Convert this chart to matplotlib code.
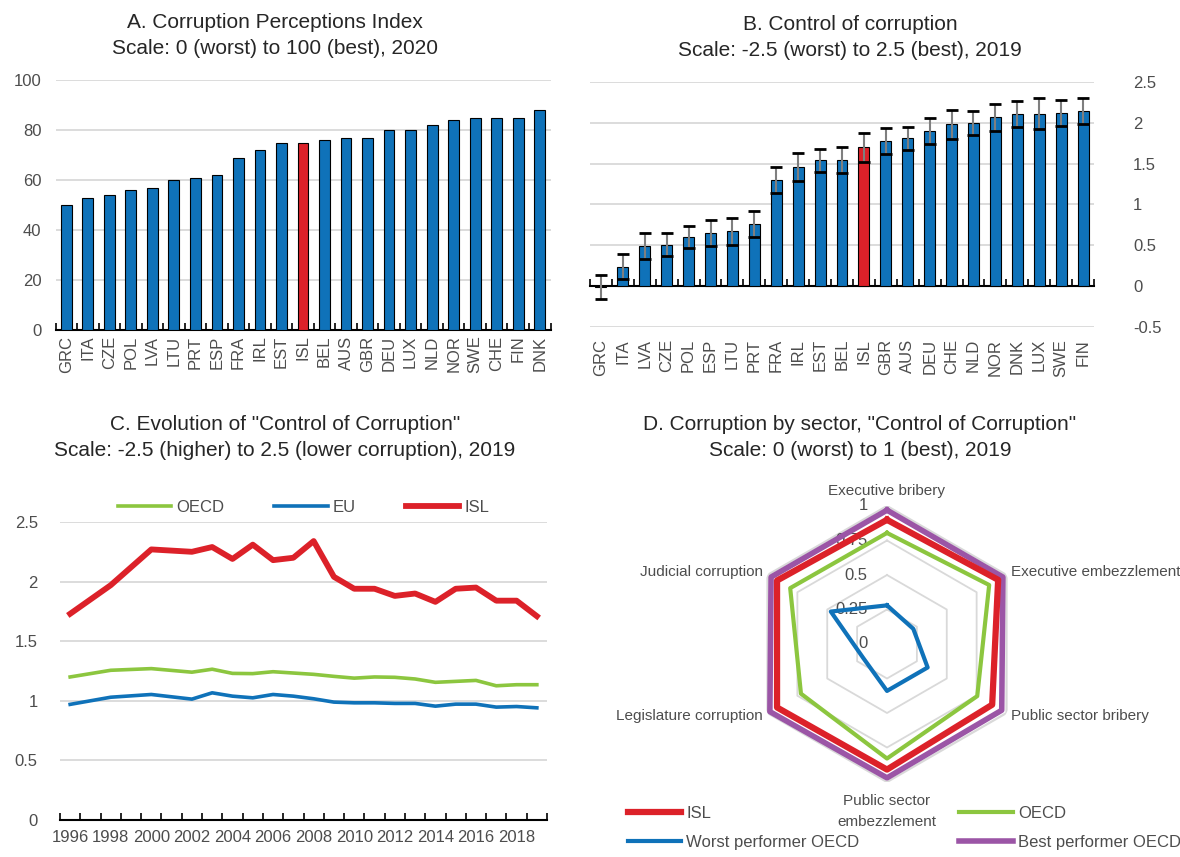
import matplotlib
matplotlib.use('Agg')
import matplotlib.pyplot as plt
import numpy as np
from matplotlib.lines import Line2D

# ----------------------------
# Data
# ----------------------------
cpi_countries = ['GRC', 'ITA', 'CZE', 'POL', 'LVA', 'LTU', 'PRT', 'ESP', 'FRA', 'IRL', 'EST', 'ISL',
                 'BEL', 'AUS', 'GBR', 'DEU', 'LUX', 'NLD', 'NOR', 'SWE', 'CHE', 'FIN', 'DNK']
cpi_scores = [50, 53, 54, 56, 57, 60, 61, 62, 69, 72, 75, 75, 76, 77, 77, 80, 80, 82, 84, 85, 85, 85, 88]

cc_countries = ['GRC', 'ITA', 'LVA', 'CZE', 'POL', 'ESP', 'LTU', 'PRT', 'FRA', 'IRL', 'EST', 'BEL',
                'ISL', 'GBR', 'AUS', 'DEU', 'CHE', 'NLD', 'NOR', 'DNK', 'LUX', 'SWE', 'FIN']
cc_values = [-0.01, 0.24, 0.49, 0.51, 0.60, 0.65, 0.67, 0.76, 1.30, 1.46, 1.54, 1.55,
             1.70, 1.78, 1.81, 1.90, 1.98, 2.00, 2.07, 2.11, 2.11, 2.12, 2.15]
cc_errors = [0.15, 0.15, 0.155, 0.145, 0.135, 0.16, 0.16, 0.16, 0.155, 0.17, 0.14, 0.16,
             0.18, 0.16, 0.145, 0.16, 0.175, 0.15, 0.165, 0.155, 0.19, 0.16, 0.16]

years = [1996, 1998, 2000, 2002, 2003, 2004, 2005, 2006, 2007, 2008, 2009, 2010,
         2011, 2012, 2013, 2014, 2015, 2016, 2017, 2018, 2019]
oecd_series = [1.20, 1.256, 1.27, 1.24, 1.265, 1.23, 1.228, 1.244, 1.233, 1.222, 1.205, 1.19,
               1.20, 1.197, 1.183, 1.155, 1.163, 1.171, 1.126, 1.135, 1.135]
eu_series = [0.97, 1.03, 1.053, 1.014, 1.067, 1.039, 1.025, 1.053, 1.039, 1.017, 0.989, 0.983,
             0.983, 0.978, 0.978, 0.955, 0.972, 0.972, 0.947, 0.952, 0.941]
isl_series = [1.73, 1.97, 2.27, 2.25, 2.29, 2.19, 2.31, 2.18, 2.20, 2.34, 2.04, 1.94,
              1.94, 1.88, 1.90, 1.83, 1.94, 1.95, 1.84, 1.84, 1.71]

sectors = ['Executive bribery', 'Executive embezzlement', 'Public sector bribery',
           'Public sector\nembezzlement', 'Legislature corruption', 'Judicial corruption']
radar_isl = [0.90, 0.93, 0.88, 0.91, 0.92, 0.92]
radar_oecd = [0.805, 0.855, 0.755, 0.83, 0.72, 0.81]
radar_worst = [0.28, 0.22, 0.34, 0.34, 0.20, 0.47]
radar_best = [0.97, 0.97, 0.96, 0.97, 0.98, 0.97]

# ----------------------------
# Style
# ----------------------------
BLUE = '#0F72B9'
RED = '#DC2129'
GREEN = '#8CC63F'
PURPLE = '#9B55A6'
GRID = '#D9D9D9'
TICK = '#4D4D4D'
TITLE = '#262626'
FS = 12

plt.rcParams['font.family'] = ['Liberation Sans', 'DejaVu Sans']
plt.rcParams['text.color'] = TICK

W, H = 1180, 857
fig = plt.figure(figsize=(W / 100, H / 100), dpi=100)


def box(x0, y0, x1, y1):
    # pixel box (top-left origin) -> figure fraction
    return [x0 / W, 1 - y1 / H, (x1 - x0) / W, (y1 - y0) / H]


def title(x, y, l1, l2):
    fig.text(x / W, 1 - y / H, l1, ha='center', va='center', fontsize=15, color=TITLE)
    fig.text(x / W, 1 - (y + 26) / H, l2, ha='center', va='center', fontsize=15, color=TITLE)


def cat_axis(ax, n):
    ax.set_xlim(-0.5, n - 0.5)
    ax.set_xticks(np.arange(-0.5, n), minor=True)
    ax.tick_params(axis='x', which='minor', length=5, width=1.2, direction='in', color='black')
    ax.tick_params(axis='x', which='major', length=0, labelsize=FS, labelcolor=TICK)
    for s in ['top', 'right', 'left']:
        ax.spines[s].set_visible(False)
    ax.spines['bottom'].set_linewidth(1.5)
    ax.grid(axis='y', color=GRID, linewidth=1.3, zorder=0)
    ax.set_axisbelow(True)


# ----------------------------
# A. Corruption Perceptions Index
# ----------------------------
axA = fig.add_axes(box(55.5, 80, 550.5, 330))
xa = np.arange(len(cpi_countries))
axA.bar(xa, cpi_scores, width=0.5, color=[RED if c == 'ISL' else BLUE for c in cpi_countries],
        edgecolor='black', linewidth=0.8, zorder=3)
cat_axis(axA, len(cpi_countries))
axA.set_xticks(xa)
axA.set_xticklabels(cpi_countries, rotation=90)
axA.tick_params(axis='x', which='major', pad=4)
axA.set_ylim(0, 100)
axA.set_yticks(np.arange(0, 101, 20))
axA.tick_params(axis='y', length=0, labelsize=FS, labelcolor=TICK, pad=10)
title(275, 23, 'A. Corruption Perceptions Index', 'Scale: 0 (worst) to 100 (best), 2020')

# ----------------------------
# B. Control of corruption
# ----------------------------
axB = fig.add_axes(box(590, 82, 1094, 327))
xb = np.arange(len(cc_countries))
axB.bar(xb, cc_values, width=0.5, color=[RED if c == 'ISL' else BLUE for c in cc_countries],
        edgecolor='black', linewidth=0.8, zorder=3)
eb = axB.errorbar(xb, cc_values, yerr=cc_errors, fmt='none', ecolor='#7F7F7F', elinewidth=1.5,
                  capsize=4, capthick=2, zorder=4)
for cap in eb[1]:
    cap.set_color('black')
    cap.set_markeredgecolor('black')
cat_axis(axB, len(cc_countries))
axB.spines['bottom'].set_position(('data', 0))
axB.set_xticks(xb)
axB.set_xticklabels(cc_countries, rotation=90)
axB.tick_params(axis='x', which='major', pad=38)
axB.set_ylim(-0.5, 2.5)
axB.set_yticks([-0.5, 0, 0.5, 1, 1.5, 2, 2.5])
axB.set_yticklabels(['-0.5', '0', '0.5', '1', '1.5', '2', '2.5'])
axB.yaxis.tick_right()
axB.tick_params(axis='y', length=0, labelsize=FS, labelcolor=TICK, pad=28)
title(850, 25, 'B. Control of corruption', 'Scale: -2.5 (worst) to 2.5 (best), 2019')

# ----------------------------
# C. Evolution of Control of Corruption
# ----------------------------
axC = fig.add_axes(box(60, 522, 547, 820))
axC.plot(years, oecd_series, color=GREEN, linewidth=2.6, label='OECD', zorder=3)
axC.plot(years, eu_series, color=BLUE, linewidth=2.6, label='EU', zorder=3)
axC.plot(years, isl_series, color=RED, linewidth=4.2, label='ISL', zorder=3)
axC.set_xlim(1995.5, 2019.5)
axC.set_xticks(np.arange(1995.5, 2020), minor=True)
axC.set_xticks(np.arange(1996, 2019, 2))
axC.tick_params(axis='x', which='minor', length=5, width=1.2, direction='in', color='black')
axC.tick_params(axis='x', which='major', length=0, labelsize=FS, labelcolor=TICK, pad=7)
for s in ['top', 'right', 'left']:
    axC.spines[s].set_visible(False)
axC.spines['bottom'].set_linewidth(1.5)
axC.grid(axis='y', color=GRID, linewidth=1.3, zorder=0)
axC.set_ylim(0, 2.5)
axC.set_yticks([0, 0.5, 1, 1.5, 2, 2.5])
axC.set_yticklabels(['0', '0.5', '1', '1.5', '2', '2.5'])
axC.tick_params(axis='y', length=0, labelsize=FS, labelcolor=TICK, pad=16)
axC.legend(loc='lower center', bbox_to_anchor=(0.5, 1.0), ncol=3, frameon=False, fontsize=FS,
           handlelength=3.2, handletextpad=0.3, columnspacing=3.0, borderaxespad=0.0)
title(285, 425, 'C. Evolution of "Control of Corruption"',
      'Scale: -2.5 (higher) to 2.5 (lower corruption), 2019')

# ----------------------------
# D. Corruption by sector (radar)
# ----------------------------
axD = fig.add_axes(box(749, 506, 1025, 782), projection='polar')
axD.set_theta_zero_location('N')
axD.set_theta_direction(-1)
ang = np.arange(len(sectors)) * 2 * np.pi / len(sectors)
ang_c = np.append(ang, ang[0])
for r in [0.25, 0.5, 0.75, 1.0]:
    axD.plot(ang_c, [r] * len(ang_c), color=GRID, linewidth=1.6 if r == 1 else 1.3, zorder=1)
series = [(radar_best, PURPLE, 4.0), (radar_isl, RED, 4.5), (radar_oecd, GREEN, 3.0), (radar_worst, BLUE, 3.0)]
for vals, col, lw in series:
    axD.plot(ang_c, np.append(vals, vals[0]), color=col, linewidth=lw, clip_on=False, zorder=3)
axD.set_ylim(0, 1)
axD.set_xticks([])
axD.set_yticks([])
axD.grid(False)
axD.spines['polar'].set_visible(False)
axD.patch.set_alpha(0)
for r, lab in zip([0, 0.25, 0.5, 0.75, 1], ['0', '0.25', '0.5', '0.75', '1']):
    axD.annotate(lab, xy=(0, r), xytext=(-14, 0), textcoords='offset points', ha='right',
                 va='center', fontsize=FS, color=TICK, zorder=2)
label_pos = [(1.11, 'center', 'center'), (1.04, 'left', 'center'), (1.04, 'left', 'center'),
             (1.09, 'center', 'top'), (1.04, 'right', 'center'), (1.04, 'right', 'center')]
for a, lab, (r, ha, va) in zip(ang, sectors, label_pos):
    axD.text(a, r, lab, ha=ha, va=va, fontsize=11, color=TICK, linespacing=1.6)
handles = [Line2D([], [], color=RED, linewidth=4.5), Line2D([], [], color=BLUE, linewidth=3),
           Line2D([], [], color=GREEN, linewidth=3), Line2D([], [], color=PURPLE, linewidth=4)]
fig.legend(handles, ['ISL', 'Worst performer OECD', 'OECD', 'Best performer OECD'], ncol=2,
           loc='upper left', bbox_to_anchor=(628 / W, 1 - 806 / H), frameon=False, fontsize=FS,
           handlelength=3.2, handletextpad=0.3, columnspacing=6.0, labelspacing=0.85,
           borderaxespad=0.0, borderpad=0.0)
title(860, 425, 'D. Corruption by sector, "Control of Corruption"', 'Scale: 0 (worst) to 1 (best), 2019')

fig.savefig('out.png', dpi=100)
